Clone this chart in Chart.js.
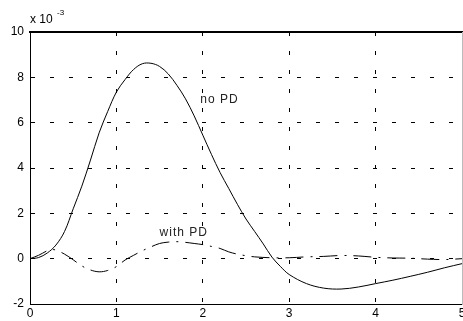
<!DOCTYPE html>
<html>
<head>
<meta charset="utf-8">
<script src="https://cdn.jsdelivr.net/npm/chart.js@4/dist/chart.umd.min.js"></script>
<style>
  body { margin: 0; background: #fff; }
  canvas { display: block; }
</style>
</head>
<body>
<canvas id="chart" width="463" height="321"></canvas>
<script>
// time axis (s) and responses (x 10^-3)
const tNoPD = [0, 0.1, 0.2, 0.3, 0.4, 0.5, 0.6, 0.7, 0.8, 0.9, 1.0, 1.1, 1.2, 1.3, 1.4, 1.5,
  1.6, 1.7, 1.8, 1.9, 2.0, 2.1, 2.2, 2.3, 2.4, 2.5, 2.6, 2.7, 2.8, 2.9, 3.0, 3.2, 3.4, 3.6,
  3.8, 4.0, 4.2, 4.4, 4.6, 4.8, 5.0];
const noPD = [0, 0.05, 0.25, 0.6, 1.2, 2.2, 3.2, 4.35, 5.55, 6.5, 7.35, 7.9, 8.35, 8.6, 8.62, 8.48,
  8.15, 7.65, 7.05, 6.3, 5.45, 4.6, 3.8, 3.1, 2.4, 1.75, 1.2, 0.65, 0.07, -0.35, -0.7, -1.1, -1.3, -1.34,
  -1.25, -1.1, -0.95, -0.78, -0.6, -0.4, -0.22];

const tWithPD = [0, 0.1, 0.2, 0.25, 0.3, 0.4, 0.5, 0.6, 0.7, 0.8, 0.9, 1.0, 1.1, 1.2, 1.3, 1.4,
  1.5, 1.6, 1.7, 1.8, 1.9, 2.0, 2.1, 2.2, 2.3, 2.4, 2.5, 2.6, 2.8, 3.0, 3.2, 3.4, 3.6, 3.8, 4.0,
  4.2, 4.4, 4.6, 4.8, 5.0];
const withPD = [0, 0.15, 0.35, 0.4, 0.38, 0.2, -0.05, -0.32, -0.5, -0.58, -0.52, -0.35, -0.06, 0.15, 0.35, 0.52,
  0.67, 0.73, 0.75, 0.72, 0.67, 0.62, 0.54, 0.45, 0.3, 0.2, 0.13, 0.08, 0.04, 0.04, 0.08, 0.1, 0.14, 0.12, 0.06,
  0.03, 0.02, -0.02, -0.04, 0];

const xTicks = [0, 1, 2, 3, 4, 5];
const yTicks = [-2, 0, 2, 4, 6, 8, 10];

const fontFamily = "'Liberation Sans', Arial, sans-serif";

const toPoints = (xs, ys) => xs.map((x, i) => ({ x: x, y: ys[i] }));

// text notes: exponent and curve names
const notesPlugin = {
  id: "notes",
  afterDraw(chart) {
    const ctx = chart.ctx;
    const xs = chart.scales.x;
    const ys = chart.scales.y;
    ctx.save();
    ctx.fillStyle = "#000";
    ctx.textBaseline = "alphabetic";
    ctx.font = "12px " + fontFamily;
    ctx.fillText("x 10", 30, 23);
    ctx.font = "8px " + fontFamily;
    ctx.fillText("-3", 57, 15);
    ctx.font = "12px " + fontFamily;
    ctx.fillStyle = "#222";
    ctx.letterSpacing = "1px";
    ctx.fillText("no PD", xs.getPixelForValue(1.97), ys.getPixelForValue(6.85));
    ctx.fillText("with PD", xs.getPixelForValue(1.5), ys.getPixelForValue(1.0));
    ctx.restore();
  },
};

const ctx = document.getElementById("chart").getContext("2d");

new Chart(ctx, {
  type: "line",
  data: {
    datasets: [
      {
        label: "no PD",
        data: toPoints(tNoPD, noPD),
        borderColor: "#000",
        borderWidth: 1,
        pointRadius: 0,
        tension: 0.35,
      },
      {
        label: "with PD",
        data: toPoints(tWithPD, withPD),
        borderColor: "#000",
        borderWidth: 1,
        borderDash: [18, 7, 2, 7],
        pointRadius: 0,
        tension: 0.35,
      },
    ],
  },
  options: {
    responsive: false,
    animation: false,
    layout: { padding: { top: 32, right: 1, left: 0, bottom: 0 } },
    plugins: {
      legend: { display: false },
      tooltip: { enabled: false },
    },
    scales: {
      x: {
        type: "linear",
        min: 0,
        max: 5,
        afterBuildTicks: (scale) => {
          scale.ticks = xTicks.map((v) => ({ value: v }));
        },
        afterFit: (scale) => {
          scale.height = 17;
          scale.paddingLeft = 0;
          scale.paddingRight = 0;
        },
        grid: { color: "#000", lineWidth: 1, drawTicks: false },
        border: { color: "#000", width: 1, dash: [4, 15] },
        ticks: {
          color: "#000",
          padding: 2,
          maxRotation: 0,
          font: { family: fontFamily, size: 12 },
        },
      },
      x2: {
        type: "linear",
        position: "top",
        min: 0,
        max: 5,
        afterFit: (scale) => {
          scale.height = 0;
          scale.paddingLeft = 0;
          scale.paddingRight = 0;
        },
        grid: { display: false },
        ticks: { display: false },
        border: { color: "#000", width: 2 },
      },
      y: {
        min: -2,
        max: 10,
        afterBuildTicks: (scale) => {
          scale.ticks = yTicks.map((v) => ({ value: v }));
        },
        afterFit: (scale) => {
          scale.width = 30;
        },
        grid: { color: "#000", lineWidth: 1, drawTicks: false },
        border: { color: "#000", width: 1, dash: [4, 15] },
        ticks: {
          color: "#000",
          padding: 6,
          font: { family: fontFamily, size: 12 },
        },
      },
      y2: {
        position: "right",
        min: -2,
        max: 10,
        afterFit: (scale) => {
          scale.width = 0;
        },
        grid: { display: false },
        ticks: { display: false },
        border: { color: "#bbb", width: 1 },
      },
    },
  },
  plugins: [notesPlugin],
});
</script>
</body>
</html>
